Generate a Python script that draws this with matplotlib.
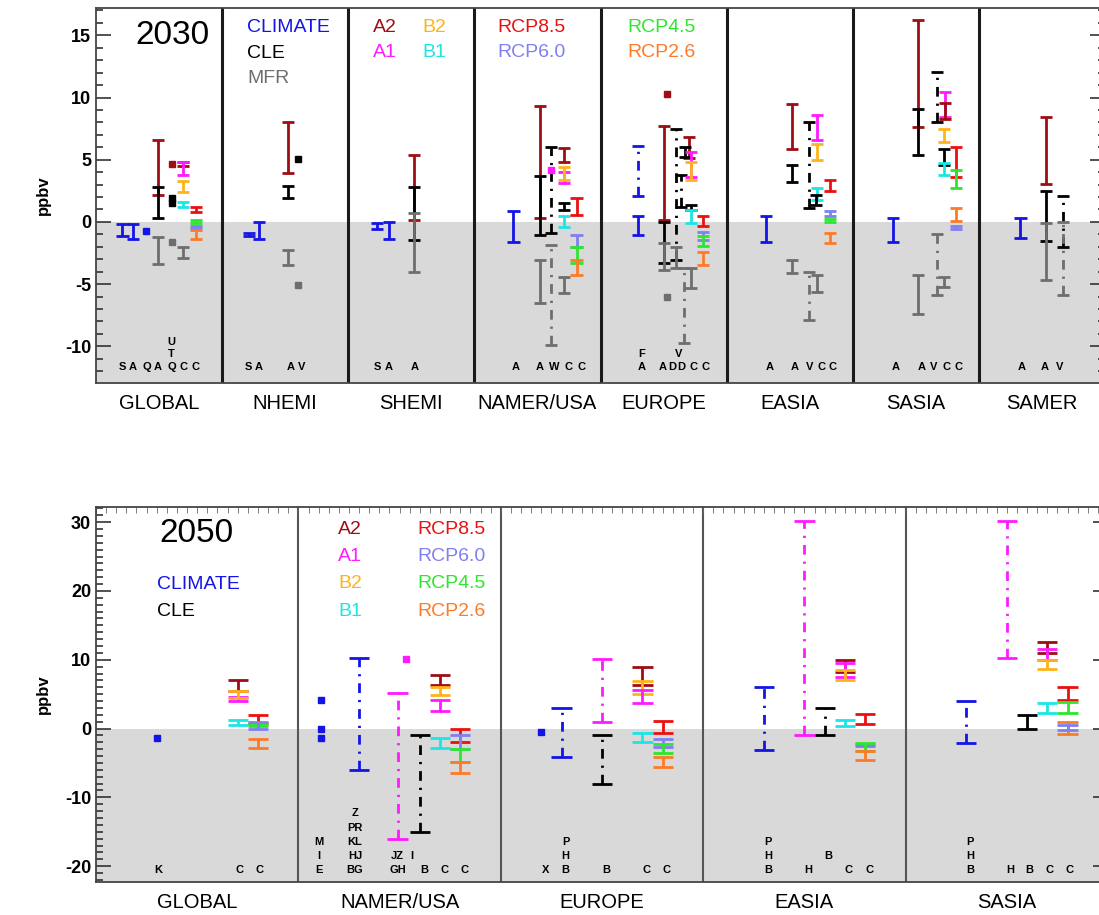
import matplotlib.pyplot as plt
import matplotlib.transforms as mtransforms
from matplotlib.ticker import MultipleLocator

plt.rcParams["font.family"] = ["Liberation Sans", "DejaVu Sans"]
plt.rcParams["axes.unicode_minus"] = False

colors = {
    "CLIMATE": "#1414e6", "CLE": "#000000", "MFR": "#6e6e6e",
    "A2": "#9e0c14", "A1": "#ff1aff", "B2": "#ffb31a", "B1": "#1ae6e6",
    "RCP8.5": "#eb1010", "RCP6.0": "#8080f0", "RCP4.5": "#2ee62e", "RCP2.6": "#ff7a26",
}

# ---------------- 2030 ----------------
regions_2030 = ["GLOBAL", "NHEMI", "SHEMI", "NAMER/USA", "EUROPE", "EASIA", "SASIA", "SAMER"]
# (region, place in region, scenario, low, high, dash-dot)
bars_2030 = [
    (0, 0.21, "CLIMATE", -1.1, -0.2, 0), (0, 0.29, "CLIMATE", -1.4, -0.2, 0),
    (0, 0.49, "A2", 2.2, 6.6, 0), (0, 0.49, "CLE", 0.3, 2.8, 0), (0, 0.49, "MFR", -3.4, -1.2, 0),
    (0, 0.69, "A2", 4.5, 4.8, 0), (0, 0.69, "A1", 3.8, 4.8, 0), (0, 0.69, "B2", 2.4, 3.3, 0),
    (0, 0.69, "B1", 1.2, 1.6, 0), (0, 0.69, "MFR", -2.9, -2.0, 0),
    (0, 0.79, "RCP8.5", 0.8, 1.2, 0), (0, 0.79, "RCP4.5", -0.05, 0.15, 0),
    (0, 0.79, "RCP6.0", -0.5, -0.3, 0), (0, 0.79, "RCP2.6", -1.4, -0.65, 0),
    (1, 0.21, "CLIMATE", -1.1, -0.9, 0), (1, 0.29, "CLIMATE", -1.4, 0.0, 0),
    (1, 0.52, "A2", 3.9, 8.05, 0), (1, 0.52, "CLE", 1.9, 2.85, 0), (1, 0.52, "MFR", -3.45, -2.25, 0),
    (2, 0.23, "CLIMATE", -0.55, -0.1, 0), (2, 0.32, "CLIMATE", -1.4, 0.0, 0),
    (2, 0.52, "A2", 0.15, 5.4, 0), (2, 0.52, "CLE", -1.45, 2.8, 0), (2, 0.52, "MFR", -4.0, 0.7, 0),
    (3, 0.31, "CLIMATE", -1.6, 0.9, 0),
    (3, 0.52, "A2", 0.35, 9.3, 0), (3, 0.52, "CLE", -1.05, 3.7, 0), (3, 0.52, "MFR", -6.5, -3.05, 0),
    (3, 0.61, "CLE", -0.9, 6.05, 1), (3, 0.61, "MFR", -9.9, -1.85, 1),
    (3, 0.71, "A2", 4.85, 5.95, 0), (3, 0.71, "A1", 3.1, 4.0, 0), (3, 0.71, "B2", 3.4, 4.4, 0),
    (3, 0.71, "CLE", 0.95, 1.5, 0), (3, 0.71, "B1", -0.4, 0.45, 0), (3, 0.71, "MFR", -5.7, -4.4, 0),
    (3, 0.81, "RCP8.5", 0.55, 1.9, 0), (3, 0.81, "RCP6.0", -2.0, -1.05, 0),
    (3, 0.81, "RCP4.5", -3.3, -2.0, 0), (3, 0.81, "RCP2.6", -4.25, -3.05, 0),
    (4, 0.30, "CLIMATE", 2.05, 6.1, 1), (4, 0.30, "CLIMATE", -1.05, 0.45, 0),
    (4, 0.50, "A2", 0.15, 7.7, 0), (4, 0.50, "CLE", -3.3, 0.0, 0), (4, 0.50, "MFR", -3.85, -1.7, 0),
    (4, 0.60, "CLE", -3.05, 7.45, 1), (4, 0.60, "MFR", -3.7, -2.0, 0),
    (4, 0.64, "CLE", 1.2, 3.8, 1), (4, 0.66, "MFR", -9.7, -3.7, 1),
    (4, 0.70, "A2", 5.1, 6.8, 0), (4, 0.67, "CLE", 5.2, 6.05, 0),
    (4, 0.72, "A1", 3.65, 5.65, 0), (4, 0.72, "B2", 3.4, 4.85, 0), (4, 0.72, "CLE", 0.95, 1.4, 0),
    (4, 0.72, "B1", -0.1, 0.95, 0), (4, 0.72, "MFR", -5.3, -3.7, 0),
    (4, 0.81, "RCP8.5", -0.3, 0.45, 0), (4, 0.81, "RCP6.0", -1.45, -0.8, 0),
    (4, 0.81, "RCP4.5", -1.9, -1.1, 0), (4, 0.81, "RCP2.6", -3.45, -2.4, 0),
    (5, 0.31, "CLIMATE", -1.65, 0.5, 0),
    (5, 0.52, "A2", 5.9, 9.5, 0), (5, 0.52, "CLE", 3.25, 4.6, 0), (5, 0.52, "MFR", -4.1, -3.05, 0),
    (5, 0.65, "CLE", 1.1, 8.05, 1), (5, 0.65, "MFR", -7.9, -4.0, 1),
    (5, 0.72, "A1", 6.6, 8.6, 0), (5, 0.72, "B2", 5.0, 6.3, 0), (5, 0.72, "B1", 1.75, 2.7, 0),
    (5, 0.71, "CLE", 1.35, 2.15, 0), (5, 0.72, "MFR", -5.6, -4.25, 0),
    (5, 0.82, "RCP8.5", 2.45, 3.35, 0), (5, 0.82, "RCP6.0", 0.45, 0.85, 0),
    (5, 0.82, "RCP4.5", 0.0, 0.25, 0), (5, 0.82, "RCP2.6", -1.7, -0.9, 0),
    (6, 0.32, "CLIMATE", -1.6, 0.3, 0),
    (6, 0.52, "A2", 7.6, 16.2, 0), (6, 0.52, "CLE", 5.4, 9.1, 0), (6, 0.52, "MFR", -7.4, -4.25, 0),
    (6, 0.67, "CLE", 8.05, 12.05, 1), (6, 0.67, "MFR", -5.85, -0.95, 1), (6, 0.72, "MFR", -5.2, -4.4, 0),
    (6, 0.73, "A1", 8.45, 10.45, 0), (6, 0.73, "A2", 8.3, 9.6, 0), (6, 0.72, "B2", 6.45, 7.5, 0),
    (6, 0.72, "CLE", 4.6, 5.9, 0), (6, 0.72, "B1", 3.75, 4.7, 0),
    (6, 0.82, "RCP8.5", 3.65, 6.05, 0), (6, 0.82, "RCP4.5", 2.7, 4.2, 0),
    (6, 0.82, "RCP2.6", 0.1, 1.1, 0), (6, 0.82, "RCP6.0", -0.6, -0.35, 0),
    (7, 0.33, "CLIMATE", -1.3, 0.3, 0),
    (7, 0.53, "A2", 3.05, 8.4, 0), (7, 0.53, "CLE", -1.5, 2.5, 0), (7, 0.53, "MFR", -4.65, -0.05, 0),
    (7, 0.67, "CLE", -2.0, 2.05, 1), (7, 0.67, "MFR", -5.85, 0.0, 1),
]
# (region, place in region, scenario, value)
points_2030 = [
    (0, 0.40, "CLIMATE", -0.75), (0, 0.60, "A2", 4.65), (0, 0.60, "CLE", 1.9),
    (0, 0.60, "CLE", 1.5), (0, 0.60, "MFR", -1.6),
    (1, 0.60, "CLE", 5.05), (1, 0.60, "MFR", -5.05),
    (3, 0.61, "A1", 4.15),
    (4, 0.53, "A2", 10.3), (4, 0.53, "MFR", -6.05),
]
# (region, place in region, row, text)
letters_2030 = [
    (0, 0.21, 0, "S"), (0, 0.29, 0, "A"), (0, 0.40, 0, "Q"), (0, 0.49, 0, "A"), (0, 0.60, 0, "Q"),
    (0, 0.60, 1, "T"), (0, 0.60, 2, "U"), (0, 0.69, 0, "C"), (0, 0.79, 0, "C"),
    (1, 0.21, 0, "S"), (1, 0.29, 0, "A"), (1, 0.54, 0, "A"), (1, 0.63, 0, "V"),
    (2, 0.23, 0, "S"), (2, 0.32, 0, "A"), (2, 0.53, 0, "A"),
    (3, 0.33, 0, "A"), (3, 0.52, 0, "A"), (3, 0.63, 0, "W"), (3, 0.745, 0, "C"), (3, 0.85, 0, "C"),
    (4, 0.325, 0, "A"), (4, 0.325, 1, "F"), (4, 0.49, 0, "A"), (4, 0.57, 0, "D"), (4, 0.64, 0, "D"),
    (4, 0.62, 1, "V"), (4, 0.74, 0, "C"), (4, 0.83, 0, "C"),
    (5, 0.34, 0, "A"), (5, 0.54, 0, "A"), (5, 0.66, 0, "V"), (5, 0.75, 0, "C"), (5, 0.84, 0, "C"),
    (6, 0.34, 0, "A"), (6, 0.55, 0, "A"), (6, 0.64, 0, "V"), (6, 0.74, 0, "C"), (6, 0.835, 0, "C"),
    (7, 0.34, 0, "A"), (7, 0.52, 0, "A"), (7, 0.64, 0, "V"),
]

# ---------------- 2050 ----------------
regions_2050 = ["GLOBAL", "NAMER/USA", "EUROPE", "EASIA", "SASIA"]
bars_2050 = [
    (0, 0.70, "A2", 5.5, 7.0, 0), (0, 0.70, "A1", 4.0, 4.6, 0), (0, 0.70, "B2", 4.4, 5.4, 0),
    (0, 0.70, "B1", 0.5, 1.2, 0),
    (0, 0.80, "RCP8.5", 0.8, 2.0, 0), (0, 0.80, "RCP4.5", 0.3, 0.7, 0),
    (0, 0.80, "RCP6.0", 0.0, 0.9, 0), (0, 0.80, "RCP2.6", -2.8, -1.5, 0),
    (1, 0.30, "CLIMATE", -6.0, 10.2, 1), (1, 0.49, "A1", -16.0, 5.1, 1), (1, 0.60, "CLE", -15.0, -1.0, 1),
    (1, 0.70, "A2", 6.3, 7.8, 0), (1, 0.70, "B2", 4.9, 6.0, 0), (1, 0.70, "A1", 2.6, 4.1, 0),
    (1, 0.70, "B1", -2.8, -1.3, 0),
    (1, 0.80, "RCP8.5", -1.9, 0.0, 0), (1, 0.80, "RCP6.0", -3.0, -1.0, 0),
    (1, 0.80, "RCP4.5", -4.9, -3.0, 0), (1, 0.80, "RCP2.6", -6.5, -4.9, 0),
    (2, 0.30, "CLIMATE", -4.1, 3.05, 1), (2, 0.50, "A1", 1.0, 10.1, 1), (2, 0.50, "CLE", -8.1, -1.0, 1),
    (2, 0.70, "A2", 6.3, 9.0, 0), (2, 0.70, "B2", 5.0, 6.9, 0), (2, 0.70, "A1", 3.7, 5.6, 0),
    (2, 0.70, "B1", -1.9, -0.7, 0),
    (2, 0.80, "RCP8.5", -0.6, 1.1, 0), (2, 0.80, "RCP6.0", -2.7, -1.45, 0),
    (2, 0.80, "RCP4.5", -3.6, -2.2, 0), (2, 0.80, "RCP2.6", -5.6, -4.1, 0),
    (3, 0.30, "CLIMATE", -3.05, 6.05, 1), (3, 0.50, "A1", -1.0, 30.2, 1), (3, 0.60, "CLE", -1.0, 3.0, 1),
    (3, 0.70, "A2", 8.2, 9.9, 0), (3, 0.70, "A1", 7.5, 9.5, 0), (3, 0.70, "B2", 7.0, 8.5, 0),
    (3, 0.70, "B1", 0.3, 1.3, 0),
    (3, 0.80, "RCP8.5", 0.6, 2.1, 0), (3, 0.80, "RCP6.0", -2.6, -2.2, 0),
    (3, 0.80, "RCP4.5", -3.2, -2.1, 0), (3, 0.80, "RCP2.6", -4.5, -3.25, 0),
    (4, 0.30, "CLIMATE", -2.1, 4.0, 1), (4, 0.50, "A1", 10.2, 30.2, 1), (4, 0.60, "CLE", 0.0, 1.95, 0),
    (4, 0.70, "A2", 11.0, 12.6, 0), (4, 0.70, "A1", 10.0, 11.5, 0), (4, 0.70, "B2", 8.6, 10.0, 0),
    (4, 0.70, "B1", 2.2, 3.7, 0),
    (4, 0.80, "RCP8.5", 4.2, 6.05, 0), (4, 0.80, "RCP4.5", 2.2, 3.85, 0),
    (4, 0.80, "RCP2.6", -0.75, 1.0, 0), (4, 0.80, "RCP6.0", -0.25, 0.5, 0),
]
points_2050 = [
    (0, 0.30, "CLIMATE", -1.3),
    (1, 0.11, "CLIMATE", 4.2), (1, 0.11, "CLIMATE", 0.0), (1, 0.11, "CLIMATE", -1.3),
    (1, 0.53, "A1", 10.1),
    (2, 0.20, "CLIMATE", -0.5),
]
letters_2050 = [
    (0, 0.31, 0, "K"), (0, 0.71, 0, "C"), (0, 0.81, 0, "C"),
    (1, 0.10, 0, "E"), (1, 0.10, 1, "I"), (1, 0.10, 2, "M"),
    (1, 0.28, 0, "BG"), (1, 0.28, 1, "HJ"), (1, 0.28, 2, "KL"), (1, 0.28, 3, "PR"), (1, 0.28, 4, "Z"),
    (1, 0.49, 0, "GH"), (1, 0.49, 1, "JZ"), (1, 0.56, 1, "I"),
    (1, 0.62, 0, "B"), (1, 0.72, 0, "C"), (1, 0.82, 0, "C"),
    (2, 0.22, 0, "X"), (2, 0.32, 0, "B"), (2, 0.32, 1, "H"), (2, 0.32, 2, "P"),
    (2, 0.52, 0, "B"), (2, 0.72, 0, "C"), (2, 0.82, 0, "C"),
    (3, 0.32, 0, "B"), (3, 0.32, 1, "H"), (3, 0.32, 2, "P"),
    (3, 0.52, 0, "H"), (3, 0.62, 1, "B"), (3, 0.72, 0, "C"), (3, 0.82, 0, "C"),
    (4, 0.32, 0, "B"), (4, 0.32, 1, "H"), (4, 0.32, 2, "P"),
    (4, 0.515, 0, "H"), (4, 0.61, 0, "B"), (4, 0.71, 0, "C"), (4, 0.81, 0, "C"),
]


def draw_panel(ax, regions, bars, points, letters, ylim, major, cap, row0, drow, divcolor, divlw):
    ax.set_xlim(0, len(regions))
    ax.set_ylim(*ylim)
    ax.axhspan(ylim[0], 0, color="#d9d9d9", lw=0, zorder=0)
    for i in range(1, len(regions)):
        ax.axvline(i, color=divcolor, lw=divlw, zorder=1)
    for reg, pos, sc, lo, hi, dash in bars:
        x = reg + pos
        ls = (0, (3.5, 2.5, 0.8, 2.5)) if dash else "solid"
        ax.vlines(x, lo, hi, colors=colors[sc], linestyles=ls, lw=2.0, zorder=3)
        ax.hlines([lo, hi], x - cap, x + cap, colors=colors[sc], lw=2.0, zorder=3)
    for reg, pos, sc, v in points:
        ax.plot(reg + pos, v, "s", color=colors[sc], ms=4.5, zorder=4)
    tr = mtransforms.blended_transform_factory(ax.transData, ax.transAxes)
    for reg, pos, row, txt in letters:
        ax.text(reg + pos, row0 + row * drow, txt, transform=tr, ha="center", va="center",
                fontsize=8, fontweight="bold")
    for i, name in enumerate(regions):
        ax.text(i + 0.5, -0.055, name, transform=tr, ha="center", va="center", fontsize=14.5)
    ax.yaxis.set_major_locator(MultipleLocator(major))
    ax.yaxis.set_minor_locator(MultipleLocator(1))
    ax.tick_params(axis="y", which="both", direction="in", left=True, right=True, width=1.2,
                   labelsize=13, color="#333333")
    ax.tick_params(axis="y", which="major", length=11)
    ax.tick_params(axis="y", which="minor", length=5)
    for lab in ax.get_yticklabels():
        lab.set_fontweight("bold")
    ax.set_xticks([])
    for s in ax.spines.values():
        s.set_color("#444444")
        s.set_linewidth(1.3)
    ax.set_ylabel("ppbv", fontsize=12, fontweight="bold", labelpad=10)


fig = plt.figure(figsize=(10.99, 9.15), dpi=100)
ax1 = fig.add_axes([96 / 1099, 1 - 383 / 915, 1009 / 1099, 375 / 915])
ax2 = fig.add_axes([96 / 1099, 1 - 882 / 915, 1012 / 1099, 375 / 915])

draw_panel(ax1, regions_2030, bars_2030, points_2030, letters_2030, (-12.95, 17.2), 5, 0.048,
           0.044, 0.033, "#1a1a1a", 2.2)
draw_panel(ax2, regions_2050, bars_2050, points_2050, letters_2050, (-22.3, 32.2), 10, 0.05,
           0.031, 0.038, "#555555", 1.5)

# top ticks on the 2050 panel
ax2.xaxis.set_minor_locator(MultipleLocator(0.05))
ax2.tick_params(axis="x", which="minor", top=True, bottom=False, direction="in", length=4, color="#666666")

tr1 = mtransforms.blended_transform_factory(ax1.transData, ax1.transAxes)
tr2 = mtransforms.blended_transform_factory(ax2.transData, ax2.transAxes)

# legend text, 2030
ax1.text(0.61, 0.926, "2030", transform=tr1, ha="center", va="center", fontsize=24)
for label, y in [("CLIMATE", 0.949), ("CLE", 0.879), ("MFR", 0.813)]:
    ax1.text(1.197, y, label, transform=tr1, color=colors[label], va="center", fontsize=14)
for label, x, y in [("A2", 2.197, 0.949), ("A1", 2.197, 0.882), ("B2", 2.585, 0.949), ("B1", 2.585, 0.882),
                    ("RCP8.5", 3.18, 0.949), ("RCP6.0", 3.18, 0.882),
                    ("RCP4.5", 4.21, 0.949), ("RCP2.6", 4.21, 0.882)]:
    ax1.text(x, y, label, transform=tr1, color=colors[label], va="center", fontsize=14)

# legend text, 2050
ax2.text(0.494, 0.928, "2050", transform=tr2, ha="center", va="center", fontsize=24)
for label, y in [("CLIMATE", 0.794), ("CLE", 0.722)]:
    ax2.text(0.30, y, label, transform=tr2, color=colors[label], va="center", fontsize=14)
for label, row in [("A2", 0), ("A1", 1), ("B2", 2), ("B1", 3)]:
    ax2.text(1.196, 0.941 - row * 0.073, label, transform=tr2, color=colors[label], va="center", fontsize=14)
for label, row in [("RCP8.5", 0), ("RCP6.0", 1), ("RCP4.5", 2), ("RCP2.6", 3)]:
    ax2.text(1.59, 0.941 - row * 0.073, label, transform=tr2, color=colors[label], va="center", fontsize=14)

fig.savefig("out.png", dpi=100)
